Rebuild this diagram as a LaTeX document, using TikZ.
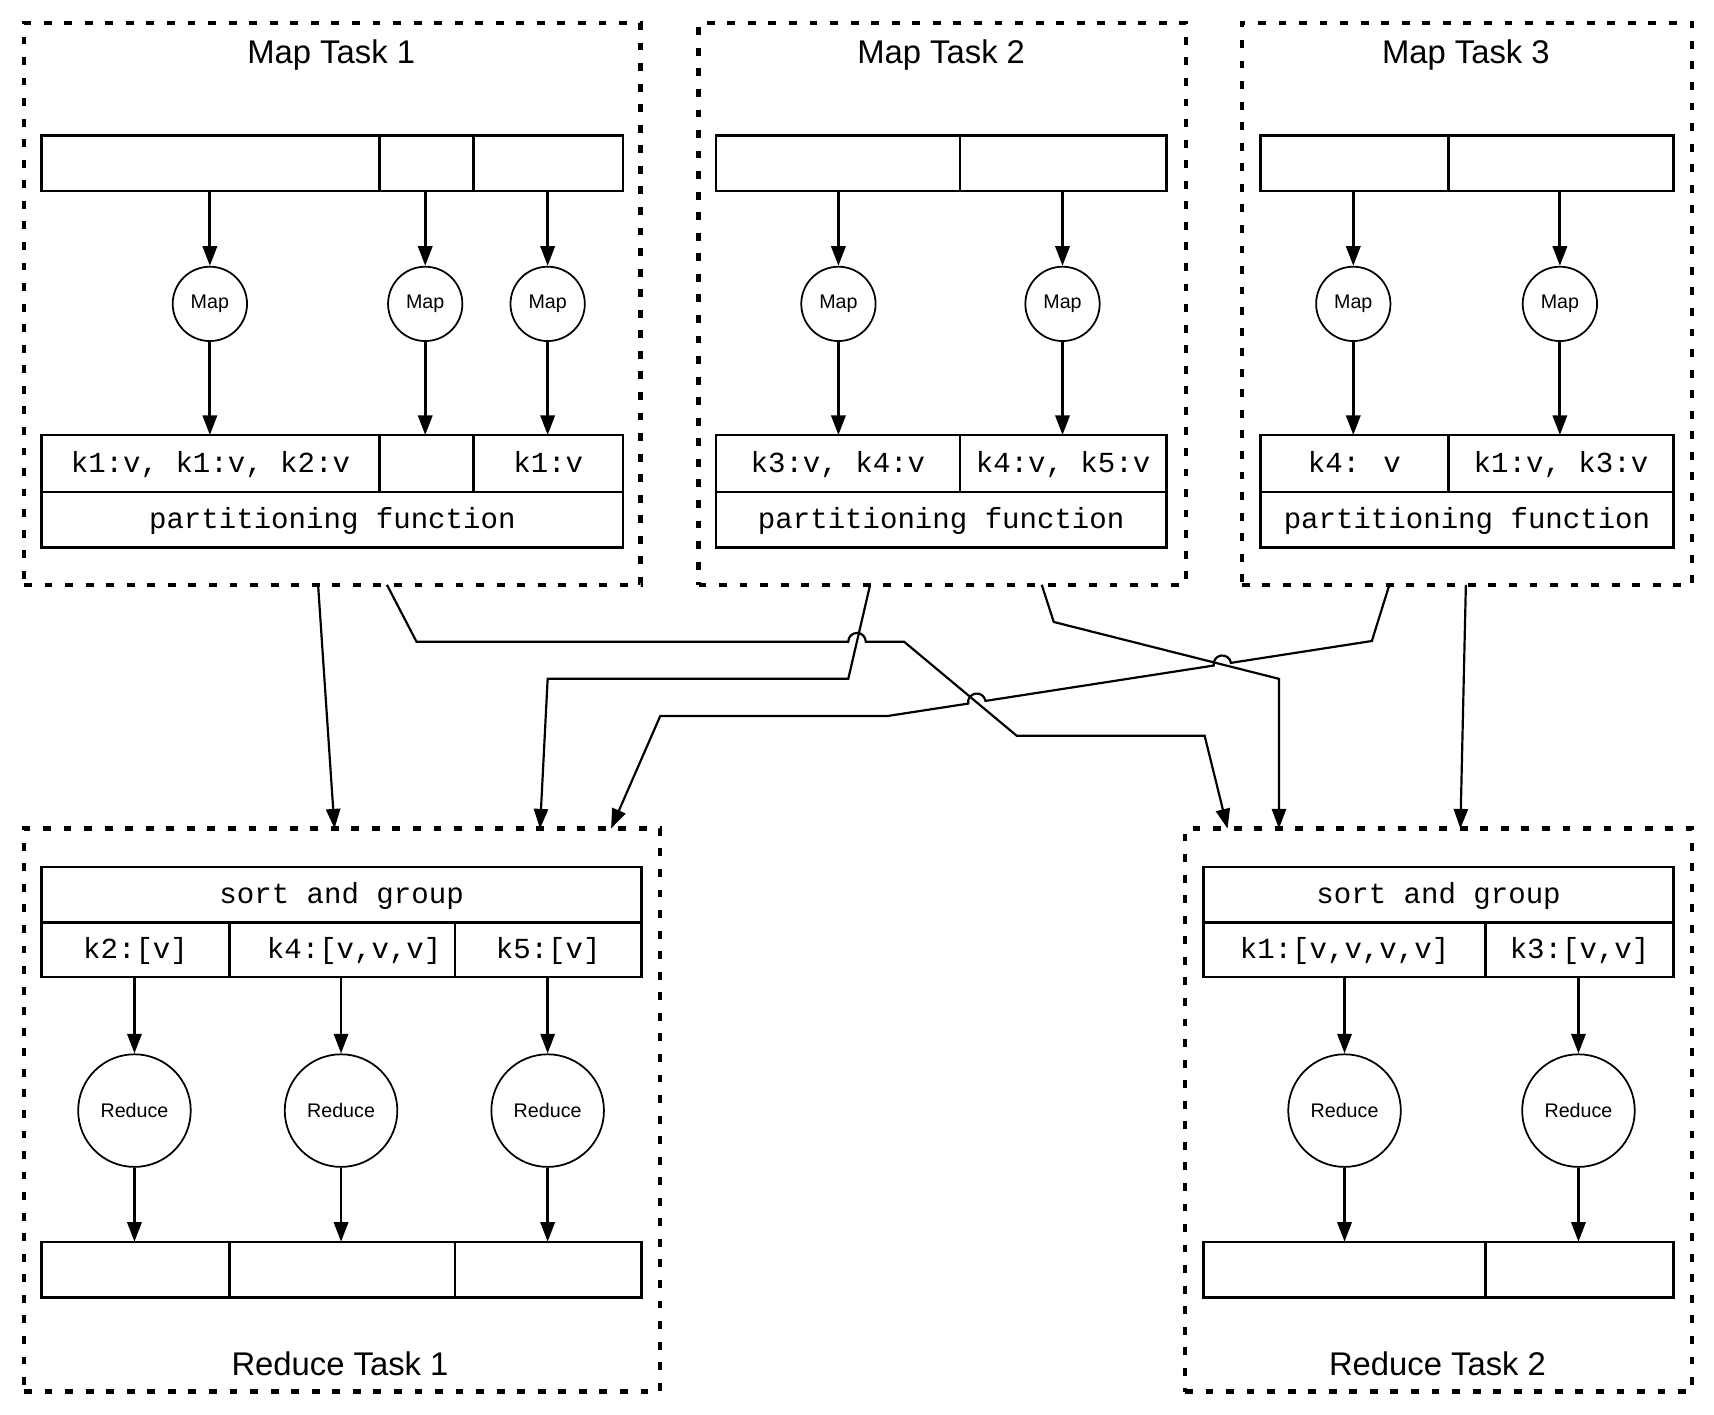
\documentclass[tikz,border=0pt]{standalone}
\usepackage{fontspec}
\setmainfont{Liberation Sans}
\newfontfamily\monof{Liberation Mono}
\usetikzlibrary{arrows.meta}
\newcommand\cell[6]{\node[cellbox, minimum width={(#4-#2)*0.5pt}, minimum height={(#5-#3)*0.5pt}] (#1) at ({(#2+#4)/2},{(#3+#5)/2}) {#6};}
\newcommand\tbox[5]{\node[taskbox, minimum width={(#4-#2)*0.5pt}, minimum height={(#5-#3)*0.5pt}] (#1) at ({(#2+#4)/2},{(#3+#5)/2}) {};}
\begin{document}
\begin{tikzpicture}[x=0.5pt,y=-0.5pt,
  taskbox/.style={draw, line width=2pt, dash pattern=on 3.6pt off 5.8pt, inner sep=0pt, outer sep=0pt},
  cellbox/.style={draw, line width=1.1pt, inner sep=0pt, outer sep=0pt, font=\monof\fontsize{13.3}{15}\selectfont, text height=1.9ex, text depth=0.35ex},
  ttl/.style={font=\fontsize{15}{17}\selectfont, anchor=base, inner sep=0pt},
  mapc/.style={draw, circle, line width=0.8pt, minimum size=34pt, inner sep=0pt, font=\fontsize{9}{10}\selectfont},
  redc/.style={draw, circle, line width=0.8pt, minimum size=51.5pt, inner sep=0pt, font=\fontsize{9}{10}\selectfont},
  arr/.style={line width=1.3pt, -{Triangle[length=9pt,width=6.5pt]}},
  conn/.style={line width=1pt, line join=miter, -{Triangle[length=9pt,width=6.5pt]}}
]
\fill[white] (0,0) rectangle (1568,1294);
\useasboundingbox (0,0) rectangle (1568,1294);

% ---------- Map Task 1 ----------
\tbox{mt1}{22}{21}{586}{535}
\node[ttl] (mt1t) at (303,58) {Map Task 1};
\cell{a1}{38}{124}{347}{175}{}
\cell{a2}{347}{124}{433}{175}{}
\cell{a3}{433}{124}{570}{175}{}
\node[mapc] (m1) at (192,278) {Map};
\node[mapc] (m2) at (389,278) {Map};
\node[mapc] (m3) at (501,278) {Map};
\cell{b1}{38}{398}{347}{450}{k1:v, k1:v, k2:v}
\cell{b2}{347}{398}{433}{450}{}
\cell{b3}{433}{398}{570}{450}{k1:v}
\cell{p1}{38}{450}{570}{501}{partitioning function}
\foreach \c/\b in {m1/b1,m2/b2,m3/b3}{
  \draw[arr] (a1.south -| \c) -- (\c);
  \draw[arr] (\c) -- (\c |- \b.north);
}

% ---------- Map Task 2 ----------
\tbox{mt2}{639}{21}{1085}{535}
\node[ttl] (mt2t) at (861,58) {Map Task 2};
\cell{c1}{655}{124}{878}{175}{}
\cell{c2}{878}{124}{1067}{175}{}
\node[mapc] (n1) at (767,278) {Map};
\node[mapc] (n2) at (972,278) {Map};
\cell{d1}{655}{398}{878}{450}{k3:v, k4:v}
\cell{d2}{878}{398}{1067}{450}{k4:v, k5:v}
\cell{p2}{655}{450}{1067}{501}{partitioning function}
\foreach \c/\b in {n1/d1,n2/d2}{
  \draw[arr] (c1.south -| \c) -- (\c);
  \draw[arr] (\c) -- (\c |- \b.north);
}

% ---------- Map Task 3 ----------
\tbox{mt3}{1136}{21}{1548}{535}
\node[ttl] (mt3t) at (1341,58) {Map Task 3};
\cell{e1}{1153}{124}{1325}{175}{}
\cell{e2}{1325}{124}{1531}{175}{}
\node[mapc] (o1) at (1238,278) {Map};
\node[mapc] (o2) at (1427,278) {Map};
\cell{f1}{1153}{398}{1325}{450}{k4: v}
\cell{f2}{1325}{398}{1531}{450}{k1:v, k3:v}
\cell{p3}{1153}{450}{1531}{501}{partitioning function}
\foreach \c/\b in {o1/f1,o2/f2}{
  \draw[arr] (e1.south -| \c) -- (\c);
  \draw[arr] (\c) -- (\c |- \b.north);
}

% ---------- Reduce Task 1 ----------
\tbox{rt1}{22}{758}{604}{1273}
\node[ttl] (rt1t) at (311,1258) {Reduce Task 1};
\cell{s1}{38}{793}{587}{844}{sort and group}
\cell{g1}{38}{844}{210}{894}{k2:[v]}
\cell{g2}{210}{844}{416}{894}{\hspace{11pt}k4:[v,v,v]}
\cell{g3}{416}{844}{587}{894}{k5:[v]}
\node[redc] (r1) at (123,1016) {Reduce};
\node[redc] (r2) at (312,1016) {Reduce};
\node[redc] (r3) at (501,1016) {Reduce};
\cell{h1}{38}{1136}{210}{1187}{}
\cell{h2}{210}{1136}{416}{1187}{}
\cell{h3}{416}{1136}{587}{1187}{}
\foreach \c/\b in {r1/h1,r2/h2,r3/h3}{
  \draw[arr] (g1.south -| \c) -- (\c);
  \draw[arr] (\c) -- (\c |- \b.north);
}

% ---------- Reduce Task 2 ----------
\tbox{rt2}{1084}{758}{1548}{1273}
\node[ttl] (rt2t) at (1315,1258) {Reduce Task 2};
\cell{s2}{1101}{793}{1531}{844}{sort and group}
\cell{i1}{1101}{844}{1359}{894}{k1:[v,v,v,v]}
\cell{i2}{1359}{844}{1531}{894}{k3:[v,v]}
\node[redc] (q1) at (1230,1016) {Reduce};
\node[redc] (q2) at (1444,1016) {Reduce};
\cell{j1}{1101}{1136}{1359}{1187}{}
\cell{j2}{1359}{1136}{1531}{1187}{}
\foreach \c/\b in {q1/j1,q2/j2}{
  \draw[arr] (i1.south -| \c) -- (\c);
  \draw[arr] (\c) -- (\c |- \b.north);
}

% ---------- shuffle connectors ----------
% A: Map1 -> Reduce1
\draw[conn] (291,0 |- mt1.south) -- (306,0 |- rt1.north);
% B: Map1 -> Reduce2 (hops over C)
\draw[conn] (354,0 |- mt1.south) -- (381,587) -- (776,587)
  arc[start angle=180,end angle=360,radius=8] -- (827,587) -- (930,673)
  -- (1102,673) -- (1123,0 |- rt2.north);
% C: Map2 -> Reduce1
\draw[conn] (796,0 |- mt2.south) -- (776,621) -- (501,621) -- (494,0 |- rt1.north);
% D: Map2 -> Reduce2
\draw[conn] (953,0 |- mt2.south) -- (964,569) -- (1170,621) -- (1170,0 |- rt2.north);
% E: Map3 -> Reduce1 (hops over D and B)
\draw[conn] (1271,0 |- mt3.south) -- (1255,586.4) -- (1126.1,606.4)
  arc[start angle=-8.8,end angle=-188.8,radius=8] -- (901.5,641.2)
  arc[start angle=-8.8,end angle=-188.8,radius=8] -- (812,655) -- (604,655)
  -- (559,0 |- rt1.north);
% F: Map3 -> Reduce2
\draw[conn] (1341,0 |- mt3.south) -- (1336,0 |- rt2.north);
\end{tikzpicture}
\end{document}
